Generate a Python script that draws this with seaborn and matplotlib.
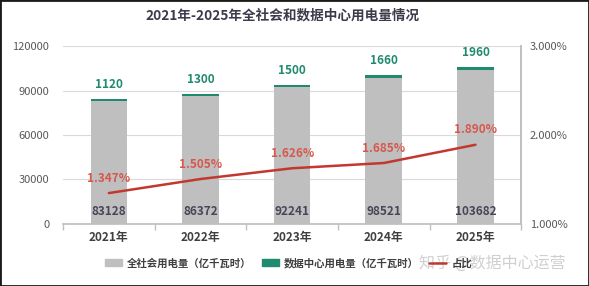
import matplotlib
matplotlib.use('Agg')
import matplotlib.pyplot as plt
import seaborn as sns
import pandas as pd
from matplotlib.patches import Patch, Rectangle
from matplotlib.lines import Line2D

#%% data
years = ['2021年', '2022年', '2023年', '2024年', '2025年']
total_power = [83128, 86372, 92241, 98521, 103682]
dc_power = [1120, 1300, 1500, 1660, 1960]
dc_share = [1.347, 1.505, 1.626, 1.685, 1.890]

grey = '#bfbfbf'
green = '#1f8a6e'
red_line = '#c2382f'
red_text = '#d8574c'
dark = '#4a4458'
tick_col = '#595959'

sns.set_theme(style='white')
plt.rcParams['font.family'] = ['Noto Sans CJK SC', 'DejaVu Sans']

df = pd.DataFrame({'year': years, 'total': total_power, 'dc': dc_power, 'share': dc_share})
df['stack'] = df['total'] + df['dc']

fig = plt.figure(figsize=(5.89, 2.86), dpi=100)
ax = fig.add_axes([0.107, 0.217, 0.778, 0.622])

# green on top = draw the sum first, grey over it
sns.barplot(data=df, x='year', y='stack', color=green, saturation=1, width=0.4, ax=ax, linewidth=0)
sns.barplot(data=df, x='year', y='total', color=grey, saturation=1, width=0.4, ax=ax, linewidth=0)
ax.set_ylim(0, 120000)
ax.set_xlim(-0.5, 4.5)
ax.set_yticks([0, 30000, 60000, 90000, 120000])
ax.set_ylabel('')
ax.set_xlabel('')
ax.grid(axis='y', color='#d9d9d9', linewidth=0.8)
ax.set_axisbelow(True)
for s in ['top', 'left']:
    ax.spines[s].set_visible(False)
ax.spines['right'].set_color('#bfbfbf')
ax.spines['bottom'].set_color('#bfbfbf')
ax.tick_params(axis='y', labelsize=8, colors=tick_col, length=0, pad=10)
ax.tick_params(axis='x', labelsize=8.5, length=0, pad=5)
for lab in ax.get_xticklabels():
    lab.set_fontweight('bold')
    lab.set_color('#3f3f3f')
ax.set_xticks([-0.5, 0.5, 1.5, 2.5, 3.5, 4.5], minor=True)
ax.tick_params(axis='x', which='minor', length=4, color='#bfbfbf', bottom=True)

for i, row in df.iterrows():
    ax.annotate(str(row['dc']), (i, row['stack']), xytext=(0, 6), textcoords='offset points',
                ha='center', va='bottom', fontsize=8.5, fontweight='bold', color=green)
    ax.annotate(str(row['total']), (i, 0), xytext=(0, 9), textcoords='offset points',
                ha='center', va='center', fontsize=8.5, fontweight='bold', color=dark)

ax2 = ax.twinx()
sns.lineplot(data=df, x='year', y='share', color=red_line, linewidth=1.8, ax=ax2, sort=False)
ax2.set_ylim(1, 3)
ax2.set_yticks([1, 2, 3])
ax2.set_yticklabels(['%.3f%%' % v for v in [1, 2, 3]])
ax2.set_ylabel('')
ax2.tick_params(axis='y', labelsize=8, colors=tick_col, length=0, pad=6)
ax2.grid(False)
for s in ['top', 'left', 'bottom']:
    ax2.spines[s].set_visible(False)
ax2.spines['right'].set_color('#bfbfbf')
for i, row in df.iterrows():
    ax2.annotate('%.3f%%' % row['share'], (i, row['share']), xytext=(0, 6), textcoords='offset points',
                 ha='center', va='bottom', fontsize=8.5, fontweight='bold', color=red_text)

fig.suptitle('2021年-2025年全社会和数据中心用电量情况', x=0.48, y=0.97, fontsize=9.8,
             fontweight='bold', color='#3d3a4b')

handles = [Patch(color=grey), Patch(color=green), Line2D([0], [0], color=red_line, linewidth=1.8)]
labels = ['全社会用电量（亿千瓦时）', '数据中心用电量（亿千瓦时）', '占比']
leg = fig.legend(handles, labels, loc='center', bbox_to_anchor=(0.49, 0.08), ncol=3, frameon=False,
                 fontsize=7.5, handlelength=1.6, handleheight=0.6, columnspacing=1.0, handletextpad=0.5)
for t in leg.get_texts():
    t.set_fontweight('bold')
    t.set_color('#3f3f3f')

# watermark sitting over the legend, as in the source image
fig.text(0.835, 0.08, '知乎 @数据中心运营', ha='center', va='center', fontsize=11.5,
         color='#b0b0b0', alpha=0.6)

fig.patches.append(Rectangle((0, 0), 1, 1, transform=fig.transFigure, fill=False,
                             edgecolor='#1a1a1a', linewidth=2))

fig.savefig('out.png', dpi=100)
